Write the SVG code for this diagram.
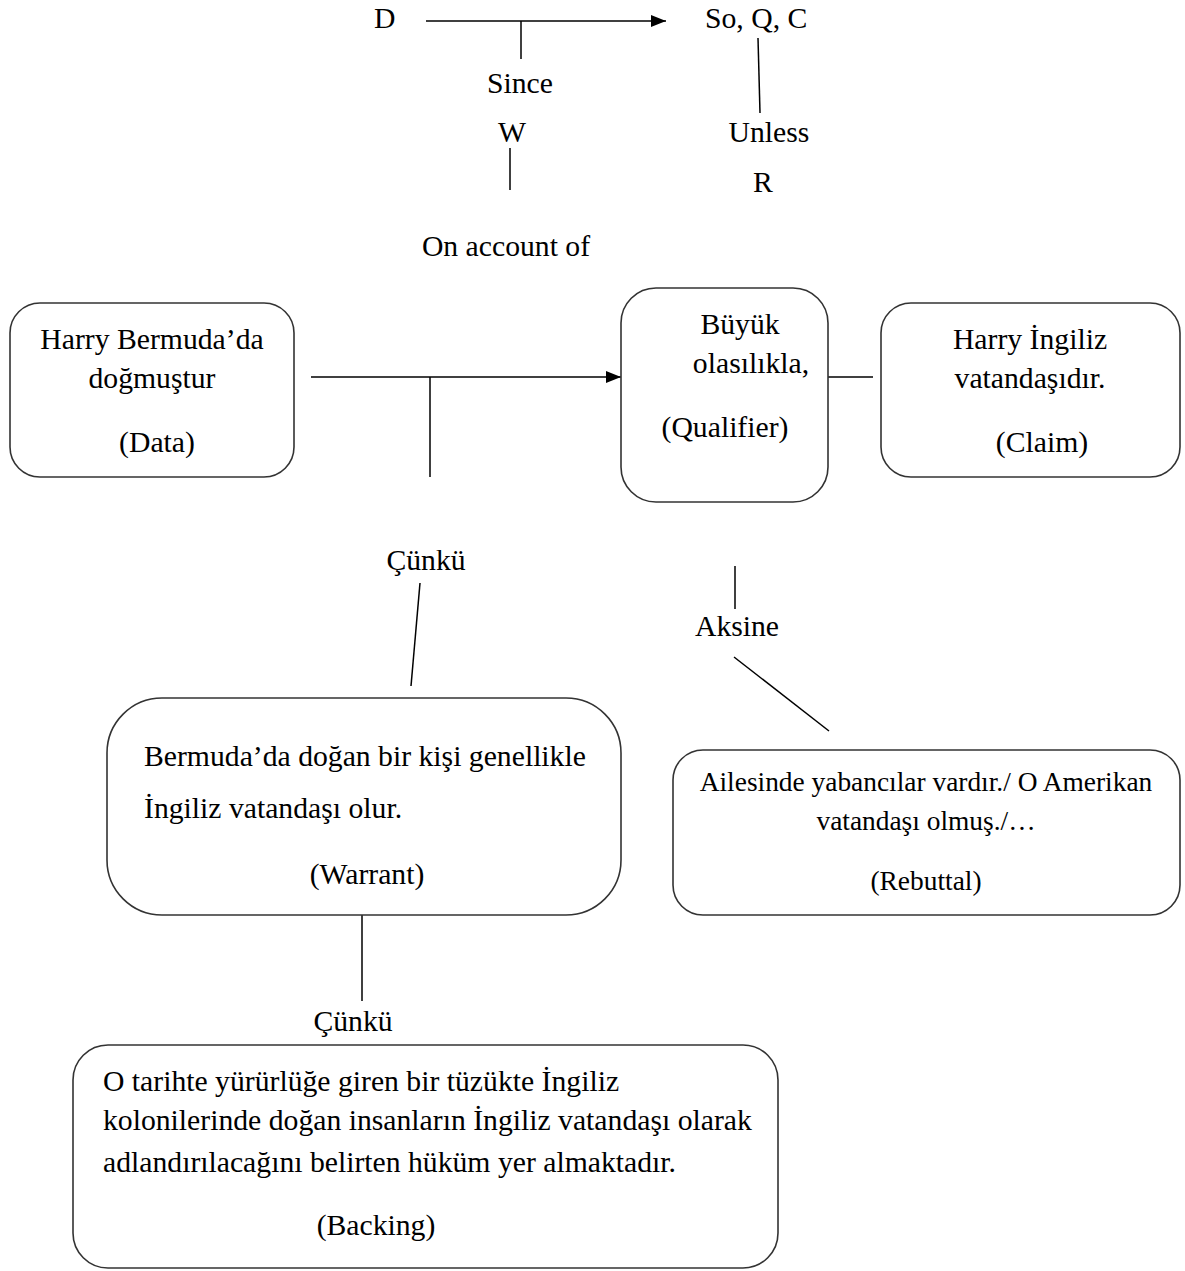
<svg xmlns="http://www.w3.org/2000/svg" width="1185" height="1271" viewBox="0 0 1185 1271" font-family="Liberation Serif, Tinos, DejaVu Serif, serif">
<style>
text{font-family:'Liberation Serif','Tinos','DejaVu Serif',serif;font-size:29.7px;fill:#000}
.s{font-size:27.4px}
.m{text-anchor:middle}
.box{fill:#fff;stroke:#333;stroke-width:1.6}
.ln{stroke:#000;stroke-width:1.5;fill:none}
</style>
<defs>
<marker id="ah" markerWidth="15" markerHeight="12" refX="15" refY="6" orient="auto" markerUnits="userSpaceOnUse">
<path d="M0,0 L15,6 L0,12 z" fill="#000"/>
</marker>
</defs>
<rect width="1185" height="1271" fill="#fff"/>
<g id="legend">
<text x="374" y="28">D</text>
<text x="705" y="28">So, Q, C</text>
<text class="m" x="520" y="93">Since</text>
<text class="m" x="512" y="142">W</text>
<text class="m" x="769" y="142">Unless</text>
<text class="m" x="763" y="192">R</text>
<text class="m" x="506" y="256">On account of</text>
</g>
<g id="connectors">
<line class="ln" x1="426" y1="21" x2="666" y2="21" marker-end="url(#ah)"/>
<line class="ln" x1="521" y1="21" x2="521" y2="59"/>
<line class="ln" x1="510" y1="148" x2="510" y2="190"/>
<line class="ln" x1="758" y1="38" x2="760" y2="113"/>
<line class="ln" x1="311" y1="377" x2="621" y2="377" marker-end="url(#ah)"/>
<line class="ln" x1="430" y1="377" x2="430" y2="477"/>
<line class="ln" x1="828" y1="377" x2="873" y2="377"/>
<line class="ln" x1="420" y1="583" x2="411" y2="686"/>
<line class="ln" x1="735" y1="566" x2="735" y2="609"/>
<line class="ln" x1="734" y1="657" x2="829" y2="731"/>
<line class="ln" x1="362" y1="915" x2="362" y2="1001"/>
<text class="m" x="426" y="570">Çünkü</text>
<text class="m" x="737" y="636">Aksine</text>
<text class="m" x="353" y="1031">Çünkü</text>
</g>
<g id="data">
<rect class="box" x="10" y="303" width="284" height="174" rx="30"/>
<text class="m" x="152" y="349">Harry Bermuda’da</text>
<text class="m" x="152" y="388">doğmuştur</text>
<text class="m" x="157" y="452">(Data)</text>
</g>
<g id="qualifier">
<rect class="box" x="621" y="288" width="207" height="214" rx="35"/>
<text class="m" x="740" y="334">Büyük</text>
<text class="m" x="751" y="373">olasılıkla,</text>
<text class="m" x="725" y="437">(Qualifier)</text>
</g>
<g id="claim">
<rect class="box" x="881" y="303" width="299" height="174" rx="30"/>
<text class="m" x="1030" y="349">Harry İngiliz</text>
<text class="m" x="1030" y="388">vatandaşıdır.</text>
<text class="m" x="1042" y="452">(Claim)</text>
</g>
<g id="warrant">
<rect class="box" x="107" y="698" width="514" height="217" rx="55"/>
<text x="144" y="766">Bermuda’da doğan bir kişi genellikle</text>
<text x="144" y="818">İngiliz vatandaşı olur.</text>
<text class="m" x="367" y="884">(Warrant)</text>
</g>
<g id="rebuttal">
<rect class="box" x="673" y="750" width="507" height="165" rx="30"/>
<text class="m s" x="926" y="791">Ailesinde yabancılar vardır./ O Amerikan</text>
<text class="m s" x="926" y="830">vatandaşı olmuş./…</text>
<text class="m s" x="926" y="890">(Rebuttal)</text>
</g>
<g id="backing">
<rect class="box" x="73" y="1045" width="705" height="223" rx="35"/>
<text x="103" y="1091">O tarihte yürürlüğe giren bir tüzükte İngiliz</text>
<text x="103" y="1130">kolonilerinde doğan insanların İngiliz vatandaşı olarak</text>
<text x="103" y="1172">adlandırılacağını belirten hüküm yer almaktadır.</text>
<text class="m" x="376" y="1235">(Backing)</text>
</g>
</svg>
